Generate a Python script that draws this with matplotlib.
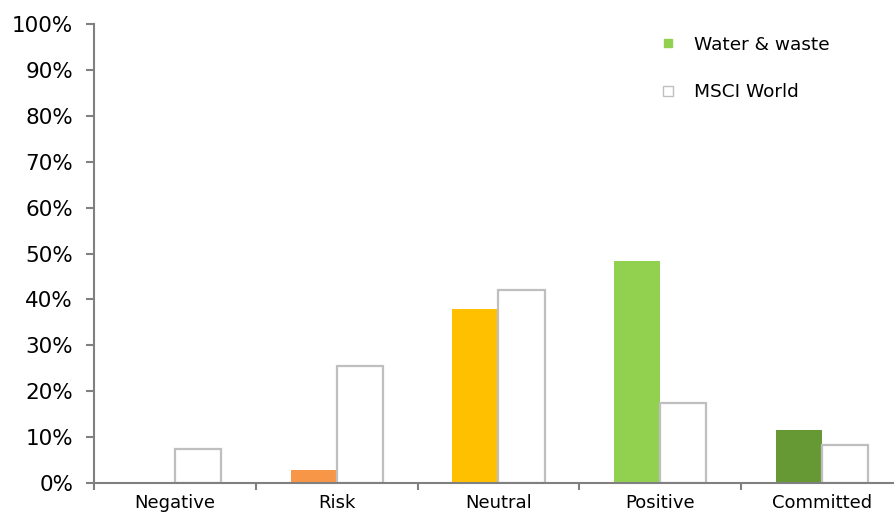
import matplotlib
matplotlib.use("Agg")
import matplotlib.pyplot as plt
from matplotlib.lines import Line2D
import numpy as np

categories = ["Negative", "Risk", "Neutral", "Positive", "Committed"]
water_waste = [0.0, 2.8, 37.9, 48.4, 11.5]
msci_world = [7.3, 25.5, 42.1, 17.5, 8.3]
water_colors = ["#C0504D", "#F79646", "#FFC000", "#92D050", "#669933"]
yticks = [0, 10, 20, 30, 40, 50, 60, 70, 80, 90, 100]
ytick_labels = [f"{v}%" for v in yticks]

W, H = 895, 513
fig = plt.figure(figsize=(W / 100, H / 100), dpi=100)
ax = fig.add_axes([94 / W, 30 / H, (903 - 94) / W, (483 - 24) / H])

x = np.arange(len(categories))
bw = 0.285
ax.bar(x - bw / 2, water_waste, width=bw, color=water_colors, edgecolor="none", zorder=2)
ax.bar(x + bw / 2, msci_world, width=bw, color="white", edgecolor="#BFBFBF", linewidth=1.6, zorder=2)

ax.set_xlim(-0.5, len(categories) - 0.5)
ax.set_ylim(0, 100)
ax.set_yticks(yticks)
ax.set_yticklabels(ytick_labels, fontsize=15.5, color="#000000")
ax.set_xticks(x)
ax.set_xticklabels(categories, fontsize=13)
ax.set_xticks(np.arange(len(categories) + 1) - 0.5, minor=True)
ax.tick_params(axis="x", which="major", length=0, pad=8)
ax.tick_params(axis="x", which="minor", length=5, width=1.5, color="#808080", direction="out")
ax.tick_params(axis="y", length=6, width=1.5, color="#808080", direction="out", pad=9)

for s in ["top", "right"]:
    ax.spines[s].set_visible(False)
for s in ["left", "bottom"]:
    ax.spines[s].set_color("#808080")
    ax.spines[s].set_linewidth(1.5)

handles = [
    Line2D([], [], marker="s", linestyle="none", markersize=6, markerfacecolor="#92D050", markeredgecolor="#92D050"),
    Line2D([], [], marker="s", linestyle="none", markersize=7, markerfacecolor="white", markeredgecolor="#BFBFBF", markeredgewidth=1),
]
fig.legend(handles, ["Water & waste", "MSCI World"], loc="upper left",
           bbox_to_anchor=(642 / W, 1 - 19 / H), frameon=False, fontsize=13.3,
           labelspacing=1.6, handletextpad=0.9, handlelength=1.0)

fig.savefig("out.png", dpi=100)
